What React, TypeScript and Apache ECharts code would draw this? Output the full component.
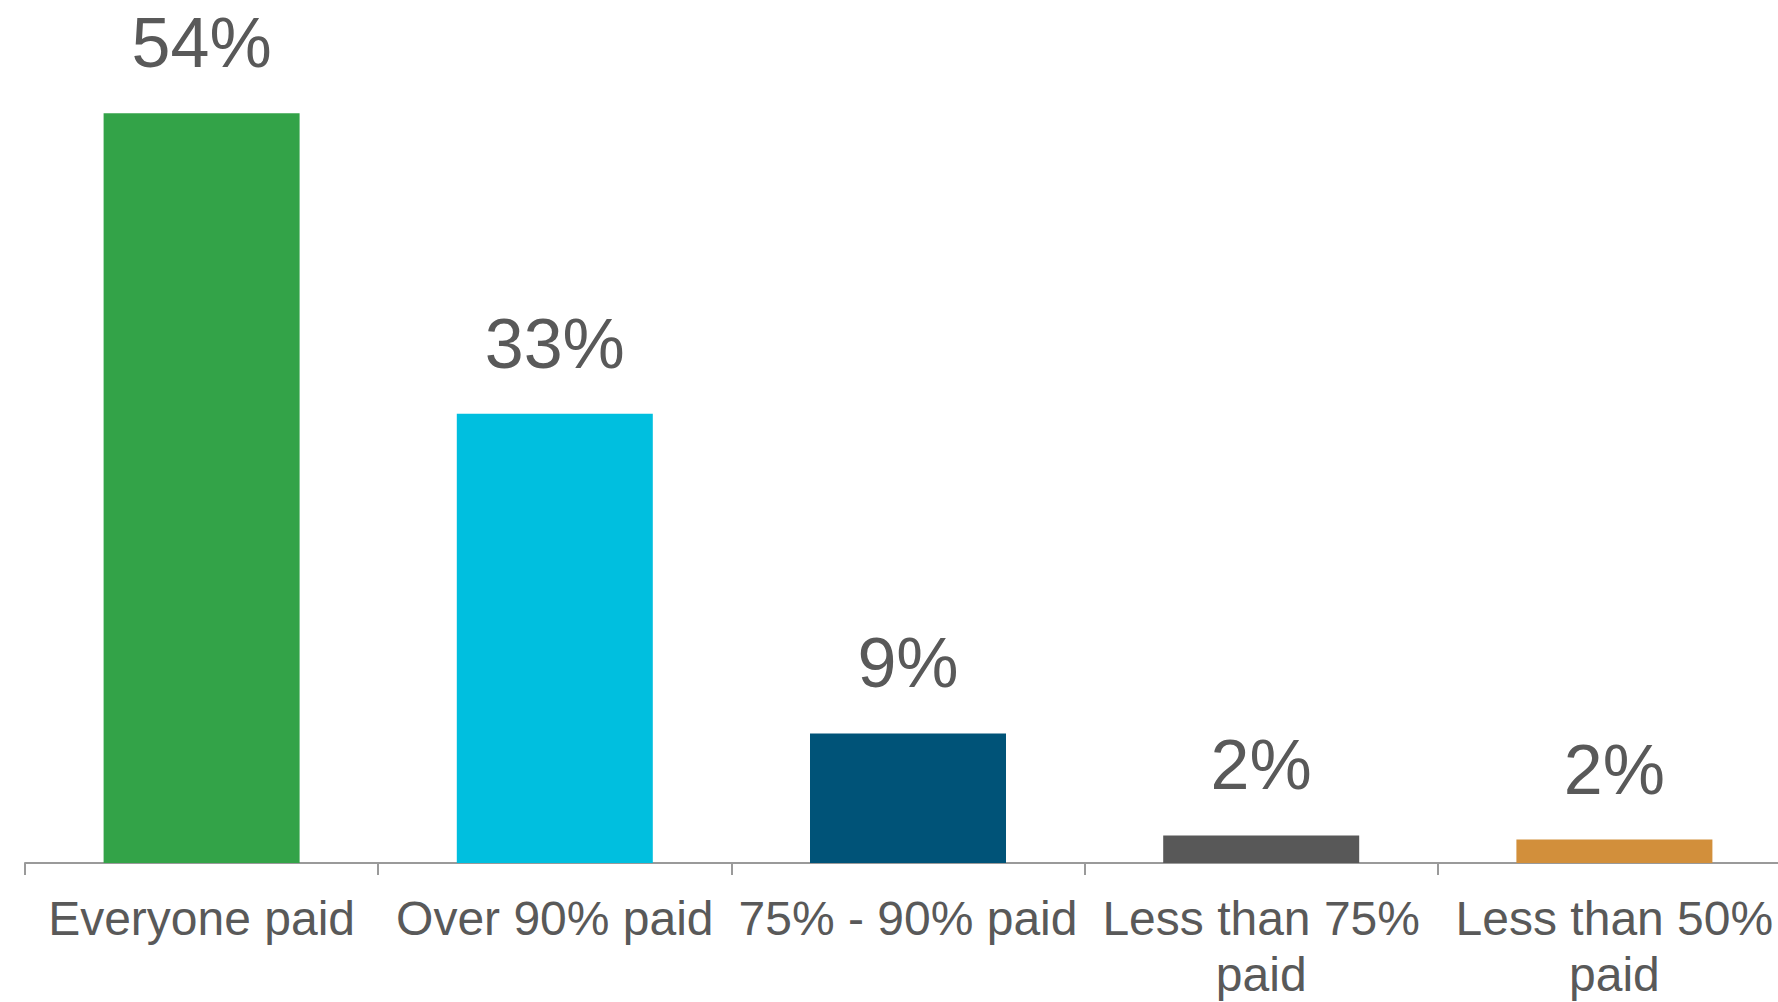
import React, { useEffect, useRef } from "react";
import * as echarts from "echarts";

const categories = [
  "Everyone paid",
  "Over 90% paid",
  "75% - 90% paid",
  "Less than 75%\npaid",
  "Less than 50%\npaid",
];
const values = [54.4, 32.6, 9.4, 2.0, 1.7];
const barColors = ["#33a348", "#00bfdf", "#005378", "#585858", "#d28f3b"];

export default function App() {
  const ref = useRef<HTMLDivElement>(null);
  useEffect(() => {
    if (!ref.current) return;
    const chart = echarts.init(ref.current, undefined, { renderer: "svg" });
    chart.setOption({
      animation: false,
      backgroundColor: "#ffffff",
      grid: { left: 25, right: 9, top: 36, bottom: 138, containLabel: false },
      xAxis: {
        type: "category",
        data: categories,
        boundaryGap: true,
        axisLine: { show: true, lineStyle: { color: "#9a9a9a", width: 2 } },
        axisTick: { show: true, length: 12, lineStyle: { color: "#9a9a9a", width: 2 } },
        axisLabel: {
          color: "#595959",
          fontSize: 48,
          fontFamily: "Liberation Sans, Arial, sans-serif",
          lineHeight: 56,
          margin: 27,
          interval: 0,
        },
      },
      yAxis: {
        type: "value",
        min: 0,
        max: 60,
        show: false,
        splitLine: { show: false },
      },
      series: [
        {
          type: "bar",
          barWidth: 196,
          data: values.map((v, i) => ({ value: v, itemStyle: { color: barColors[i] } })),
          label: {
            show: true,
            position: "top",
            distance: 35,
            color: "#595959",
            fontSize: 70,
            fontFamily: "Liberation Sans, Arial, sans-serif",
            formatter: (p: any) => Math.round(p.value) + "%",
          },
        },
      ],
    });
    return () => chart.dispose();
  }, []);
  return (
    <div
      ref={ref}
      style={{ position: "fixed", left: 0, top: 0, width: 1800, height: 1002, background: "#fff" }}
    />
  );
}
